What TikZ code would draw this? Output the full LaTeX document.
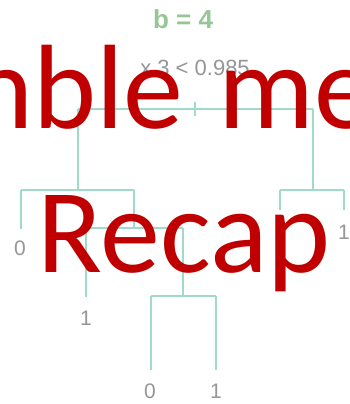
\documentclass[tikz,border=0pt]{standalone}
\usepackage{fontspec}
\setmainfont{Liberation Sans}
\newfontfamily\redfont{Carlito}
\definecolor{treeline}{RGB}{160,218,200}
\definecolor{labgray}{RGB}{150,150,150}
\definecolor{titlegreen}{RGB}{150,198,150}
\definecolor{overred}{RGB}{192,0,0}
\begin{document}
\begin{tikzpicture}[x=1pt,y=-1pt,
  edge/.style={draw=treeline,line width=1.8pt},
  leaflab/.style={text=labgray,font=\fontsize{21}{21}\selectfont,inner sep=0pt,anchor=center},
  overtext/.style={text=overred,font=\redfont\fontsize{120}{120}\selectfont,inner sep=0pt}]
\useasboundingbox (0,0) rectangle (350,404);
\clip (0,0) rectangle (350,404);
\fill[white] (0,0) rectangle (350,404);
% title and split
\node[text=titlegreen,font=\bfseries\fontsize{26}{26}\selectfont,inner sep=0pt] (title) at (183,19) {b = 4};
\node[text=labgray,font=\fontsize{22}{22}\selectfont,inner sep=0pt] (split) at (195,68) {x 3 < 0.985};
% tree coordinates
\coordinate (rt) at (195,102);
\coordinate (rb) at (195,116);
\coordinate (rl) at (78,109);
\coordinate (rr) at (313,109);
\coordinate (l) at (78,190);
\coordinate (ll) at (21,190);
\coordinate (lr) at (134,190);
\coordinate (llend) at (21,229);
\coordinate (lrj) at (134,228);
\coordinate (lrl) at (86,228);
\coordinate (lrr) at (183,228);
\coordinate (lrlend) at (86,297);
\coordinate (lrrj) at (183,296);
\coordinate (a) at (151,296);
\coordinate (b) at (216,296);
\coordinate (aend) at (151,370);
\coordinate (bend) at (216,370);
\coordinate (r) at (313,190);
\coordinate (rl2) at (280,190);
\coordinate (rr2) at (344,190);
\coordinate (rl2end) at (280,210);
\coordinate (rr2end) at (344,210);
% edges
\draw[edge] (rt) -- (rb);
\draw[edge] (rl) -- (rr);
\draw[edge] (rl) -- (l);
\draw[edge] (ll) -- (lr);
\draw[edge] (ll) -- (llend);
\draw[edge] (lr) -- (lrj);
\draw[edge] (lrl) -- (lrr);
\draw[edge] (lrl) -- (lrlend);
\draw[edge] (lrr) -- (lrrj);
\draw[edge] (a) -- (b);
\draw[edge] (a) -- (aend);
\draw[edge] (b) -- (bend);
\draw[edge] (rr) -- (r);
\draw[edge] (rl2) -- (rr2);
\draw[edge] (rl2) -- (rl2end);
\draw[edge] (rr2) -- (rr2end);
% leaf labels
\node[leaflab] (lab1) at (20,248) {0};
\node[leaflab] (lab2) at (86,318) {1};
\node[leaflab] (lab3) at (150,391) {0};
\node[leaflab] (lab4) at (216,391) {1};
\node[leaflab] (lab5) at (344,232) {1};
% overlay text
\node[overtext,anchor=base west] (ens) at (-30,128) {nble\hspace{8pt} me};
\node[overtext,anchor=base] (recap) at (184,272) {Recap};
\end{tikzpicture}
\end{document}
